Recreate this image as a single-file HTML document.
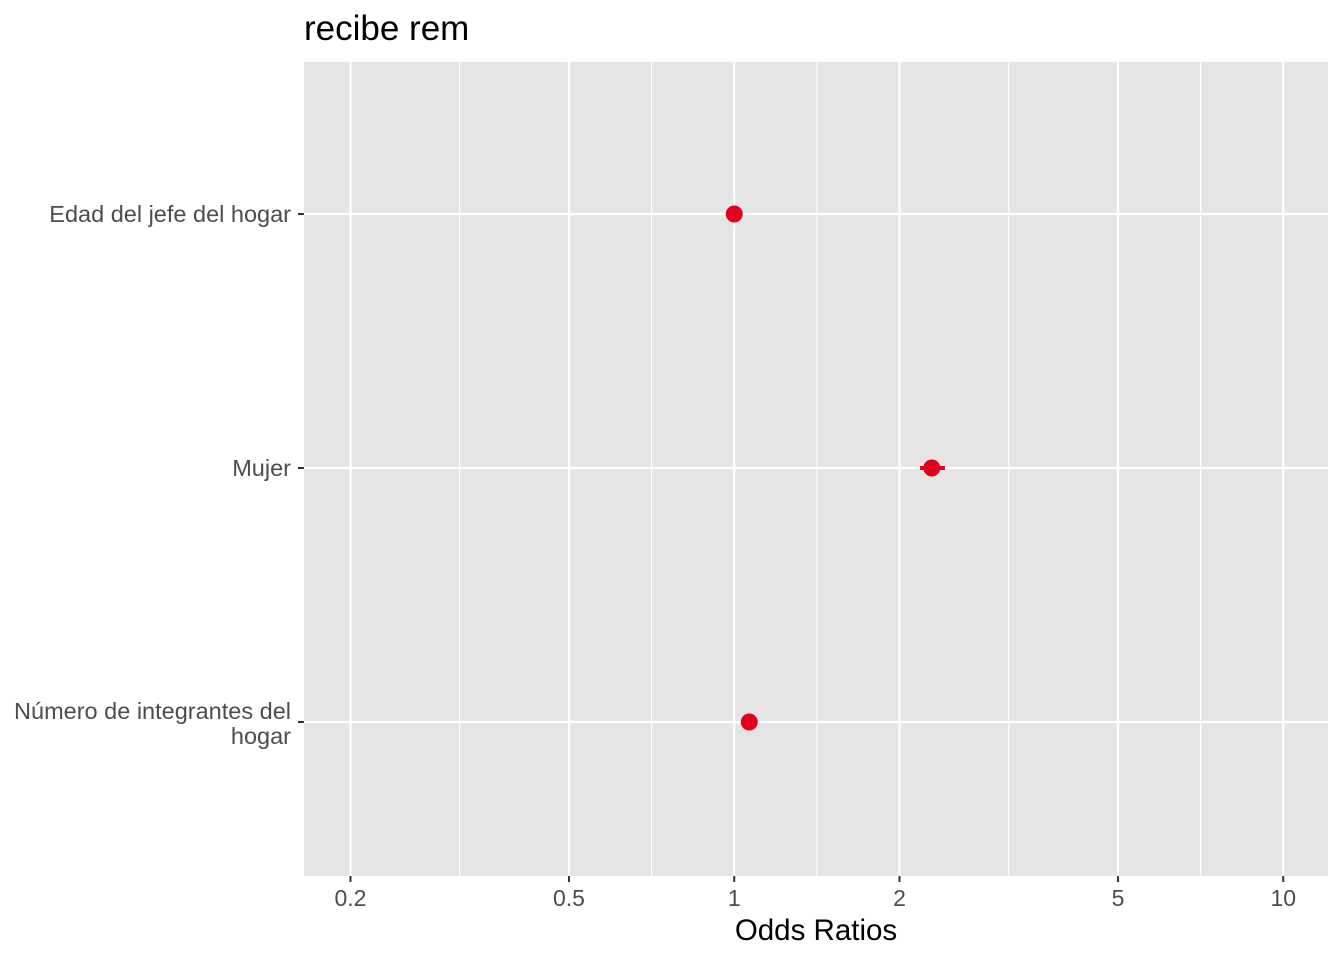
<!DOCTYPE html>
<html><head><meta charset="utf-8"><style>
body{margin:0;background:#fff;font-family:"Liberation Sans",sans-serif}
</style></head><body>
<svg id="chart" width="1344" height="960" xmlns="http://www.w3.org/2000/svg" font-family="Liberation Sans, sans-serif">
<text x="304" y="40" font-size="35" fill="#000">recibe rem</text>
<rect x="304" y="62" width="1024" height="814" fill="#E5E5E5"/>
<g id="grid"></g><g id="marks"></g><g id="axes"></g>
<text x="816" y="940" font-size="29.5" text-anchor="middle" fill="#000">Odds Ratios</text>
</svg>
<script>
const categories=["Edad del jefe del hogar","Mujer","Número de integrantes del hogar"];
const estimates=[1.00,2.29,1.065];
const lower=[0.99,2.18,1.05];
const upper=[1.01,2.42,1.08];
const xTicks=[0.2,0.5,1,2,5,10];
const xMinor=[0.316,0.707,1.414,3.162,7.07];
const ns="http://www.w3.org/2000/svg";
const x=v=>350.5+549*Math.log10(v/0.2);
const y=i=>214+254*i;
const g=document.getElementById('grid'),m=document.getElementById('marks'),a=document.getElementById('axes');
function mk(p,t,at){const e=document.createElementNS(ns,t);for(const k in at)e.setAttribute(k,at[k]);p.appendChild(e);return e;}
xMinor.forEach(v=>{const l=mk(g,'line',{x1:x(v),x2:x(v),y1:62,y2:876,stroke:'#fff','stroke-width':1.1});

});
xTicks.forEach(v=>{const l=mk(g,'line',{x1:x(v),x2:x(v),y1:62,y2:876,stroke:'#fff','stroke-width':2.2});


const tk=mk(a,'line',{x1:x(v),x2:x(v),y1:876,y2:882,stroke:'#333','stroke-width':2});


const t=mk(a,'text',{x:x(v),y:906,'font-size':23,'text-anchor':'middle',fill:'#4D4D4D'});t.textContent=v;

});
categories.forEach((c,i)=>{const l=mk(g,'line',{x1:304,x2:1328,y1:y(i),y2:y(i),stroke:'#fff','stroke-width':2.2});


const tk=mk(a,'line',{x1:298,x2:304,y1:y(i),y2:y(i),stroke:'#333','stroke-width':2});


const t=mk(a,'text',{'font-size':23.5,'text-anchor':'end',fill:'#4D4D4D'});


const lines=c==="Número de integrantes del hogar"?["Número de integrantes del","hogar"]:[c];
const y0=y(i)+8-(lines.length-1)*11;
lines.forEach((s,j)=>{const ts=mk(t,'tspan',{x:291,y:y0+j*25});ts.textContent=s;});
const eb=mk(m,'line',{x1:x(lower[i]),x2:x(upper[i]),y1:y(i),y2:y(i),stroke:'#E2001A','stroke-width':4});


const p=mk(m,'circle',{cx:x(estimates[i]),cy:y(i),r:8.5,fill:'#E2001A'});

});
</script>
</body></html>
